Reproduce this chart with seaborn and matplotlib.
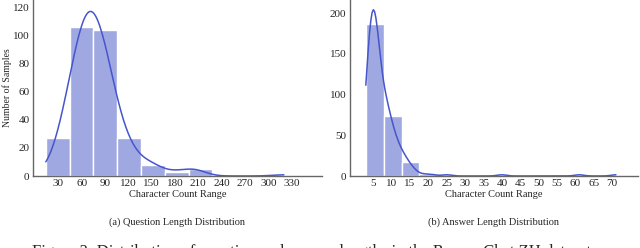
import numpy as np
import matplotlib
matplotlib.use("Agg")
import matplotlib.pyplot as plt
import seaborn as sns

# question lengths (characters) and how many samples have each length
q_lengths = [14, 30, 40, 50, 65, 80, 95, 112, 128, 150, 180, 205, 320]
q_counts = [2, 8, 17, 36, 70, 60, 44, 18, 9, 8, 3, 5, 1]
q_ticks = list(range(30, 331, 30))
q_yticks = [0, 20, 40, 60, 80, 100, 120]

# answer lengths (characters) and sample counts
a_lengths = [3, 4, 5, 6, 7, 8, 9, 10, 11, 12, 13, 14, 15, 16, 17,
             19, 21, 25, 40, 61, 71]
a_counts = [22, 42, 60, 42, 20, 24, 18, 14, 10, 8, 6, 5, 3, 2, 1,
            1, 1, 1, 1, 1, 1]
a_ticks = list(range(5, 71, 5))
a_yticks = [0, 50, 100, 150, 200]

bar_color = "#a0a8e2"
line_color = "#4556cc"

sns.set_theme(style="white")
plt.rcParams["font.family"] = ["Liberation Serif", "DejaVu Serif"]

fig = plt.figure(figsize=(6.4, 2.48), dpi=100)
ax1 = fig.add_axes([33 / 640, 72 / 248, 289 / 640, 176 / 248])
ax2 = fig.add_axes([350 / 640, 72 / 248, 288 / 640, 176 / 248])

sns.histplot(x=q_lengths, weights=q_counts, bins=10, kde=True, ax=ax1,
             color=line_color, facecolor=bar_color, edgecolor="white",
             linewidth=1, alpha=1, kde_kws={"bw_adjust": 0.55},
             line_kws={"linewidth": 1.1})
sns.histplot(x=a_lengths, weights=a_counts, bins=14, kde=True, ax=ax2,
             color=line_color, facecolor=bar_color, edgecolor="white",
             linewidth=1, alpha=1, kde_kws={"bw_adjust": 0.3},
             line_kws={"linewidth": 1.1})

ax1.set_xlim(-2.5, 369)
ax1.set_ylim(0, 125)
ax1.set_xticks(q_ticks)
ax1.set_yticks(q_yticks)
ax1.set_ylabel("Number of Samples", fontsize=7, labelpad=1)

ax2.set_xlim(-1.3, 77)
ax2.set_ylim(0, 216)
ax2.set_xticks(a_ticks)
ax2.set_yticks(a_yticks)
ax2.set_ylabel("")

for ax in (ax1, ax2):
    sns.despine(ax=ax)
    for s in ("left", "bottom"):
        ax.spines[s].set_color("#666666")
        ax.spines[s].set_linewidth(1)
    ax.tick_params(labelsize=8, length=0, pad=2.5)
    ax.set_xlabel("Character Count Range", fontsize=7.5, labelpad=1)

fig.text(177 / 640, 1 - 222 / 248, "(a) Question Length Distribution",
         ha="center", va="center", fontsize=7.5)
fig.text(494 / 640, 1 - 222 / 248, "(b) Answer Length Distribution",
         ha="center", va="center", fontsize=7.5)
fig.text(314 / 640, 1 - 244 / 248,
         "Figure 3: Distribution of question and answer lengths in the Rumor Chat ZH dataset.",
         ha="center", va="top", fontsize=12)

fig.savefig("out.png", dpi=100)
